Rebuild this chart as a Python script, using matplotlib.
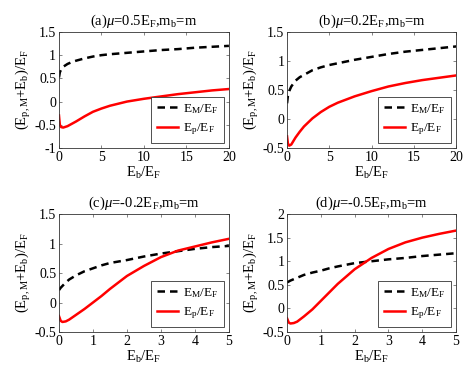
import matplotlib
matplotlib.use('Agg')
import matplotlib.pyplot as plt

plt.rcParams['font.family'] = ['Liberation Serif', 'DejaVu Serif']
plt.rcParams['mathtext.fontset'] = 'custom'
plt.rcParams['mathtext.rm'] = 'Liberation Serif'
plt.rcParams['mathtext.it'] = 'Liberation Serif:italic'
plt.rcParams['xtick.direction'] = 'in'
plt.rcParams['ytick.direction'] = 'in'
plt.rcParams['xtick.top'] = True
plt.rcParams['ytick.right'] = True

# panel (a) and (b): Eb/EF from 0 to 20
x_ab = [0, 0.1, 0.25, 0.5, 1, 1.5, 2, 3, 4, 5, 6, 8, 10, 12, 14, 16, 18, 20]
em_a = [0.52, 0.63, 0.69, 0.75, 0.81, 0.85, 0.88, 0.93, 0.97, 1.00, 1.02, 1.05, 1.08, 1.11, 1.13, 1.16, 1.18, 1.20]
ep_a = [-0.30, -0.50, -0.55, -0.56, -0.53, -0.48, -0.43, -0.32, -0.22, -0.15, -0.09, 0.0, 0.06, 0.11, 0.16, 0.20, 0.24, 0.27]
em_b = [0.27, 0.40, 0.48, 0.56, 0.66, 0.72, 0.76, 0.84, 0.89, 0.93, 0.96, 1.02, 1.07, 1.12, 1.16, 1.19, 1.22, 1.25]
ep_b = [-0.30, -0.42, -0.46, -0.44, -0.32, -0.22, -0.13, 0.01, 0.12, 0.21, 0.28, 0.39, 0.48, 0.56, 0.62, 0.67, 0.71, 0.75]

# panel (c) and (d): Eb/EF from 0 to 5
x_cd = [0, 0.05, 0.1, 0.2, 0.3, 0.5, 0.75, 1, 1.25, 1.5, 2, 2.5, 3, 3.5, 4, 4.5, 5]
em_c = [0.21, 0.25, 0.28, 0.34, 0.39, 0.46, 0.53, 0.58, 0.63, 0.67, 0.72, 0.78, 0.83, 0.87, 0.91, 0.94, 0.96]
ep_c = [-0.23, -0.31, -0.33, -0.32, -0.29, -0.21, -0.11, 0.0, 0.11, 0.23, 0.45, 0.62, 0.77, 0.88, 0.95, 1.02, 1.08]
em_d = [0.55, 0.57, 0.59, 0.62, 0.65, 0.71, 0.76, 0.80, 0.85, 0.89, 0.96, 1.00, 1.04, 1.07, 1.11, 1.14, 1.17]
ep_d = [-0.21, -0.30, -0.32, -0.31, -0.28, -0.17, -0.02, 0.16, 0.34, 0.52, 0.83, 1.07, 1.26, 1.40, 1.50, 1.58, 1.65]

titles = [r'(a)$\mu$=0.5E$_\mathrm{F}$,m$_\mathrm{b}$=m',
          r'(b)$\mu$=0.2E$_\mathrm{F}$,m$_\mathrm{b}$=m',
          r'(c)$\mu$=-0.2E$_\mathrm{F}$,m$_\mathrm{b}$=m',
          r'(d)$\mu$=-0.5E$_\mathrm{F}$,m$_\mathrm{b}$=m']

panels = [
    (x_ab, em_a, ep_a, [0.1274, 0.6085, 0.367, 0.307], (-1, 1.5), [-1, -0.5, 0, 0.5, 1, 1.5], [0, 5, 10, 15, 20]),
    (x_ab, em_b, ep_b, [0.620, 0.6085, 0.365, 0.307], (-0.5, 1.5), [-0.5, 0, 0.5, 1, 1.5], [0, 5, 10, 15, 20]),
    (x_cd, em_c, ep_c, [0.1274, 0.1217, 0.367, 0.312], (-0.5, 1.5), [-0.5, 0, 0.5, 1, 1.5], [0, 1, 2, 3, 4, 5]),
    (x_cd, em_d, ep_d, [0.620, 0.1217, 0.365, 0.312], (-0.5, 2), [-0.5, 0, 0.5, 1, 1.5, 2], [0, 1, 2, 3, 4, 5]),
]

fig = plt.figure(figsize=(4.63, 3.78), dpi=100)

for i in range(4):
    x, em, ep, pos, ylim, yt, xt = panels[i]
    ax = fig.add_axes(pos)
    ax.plot(x, em, 'k--', linewidth=1.8, dashes=(3, 2), label=r'E$_\mathrm{M}$/E$_\mathrm{F}$')
    ax.plot(x, ep, 'r-', linewidth=1.8, label=r'E$_\mathrm{p}$/E$_\mathrm{F}$')
    ax.set_xlim(xt[0], xt[-1])
    ax.set_ylim(ylim)
    ax.set_xticks(xt)
    ax.set_yticks(yt)
    ax.set_yticklabels(['%g' % v for v in yt])
    ax.tick_params(labelsize=10, length=2.5, width=0.5, pad=2, color='#555555')
    for s in ax.spines.values():
        s.set_linewidth(0.6)
        s.set_color('#333333')
    ax.set_title(titles[i], fontsize=10.5, pad=5)
    ax.set_xlabel(r'E$_\mathrm{b}$/E$_\mathrm{F}$', fontsize=10.5, labelpad=1)
    ax.set_ylabel(r'(E$_\mathrm{p,M}$+E$_\mathrm{b}$)/E$_\mathrm{F}$', fontsize=10.5, labelpad=1)
    leg = ax.legend(loc='lower right', fontsize=9.5, fancybox=False, edgecolor='#333333',
                    framealpha=1, handlelength=1.6, handletextpad=0.4,
                    borderaxespad=0.4, borderpad=0.4, labelspacing=0.45)
    leg.get_frame().set_linewidth(0.6)

plt.savefig('out.png', dpi=100)
